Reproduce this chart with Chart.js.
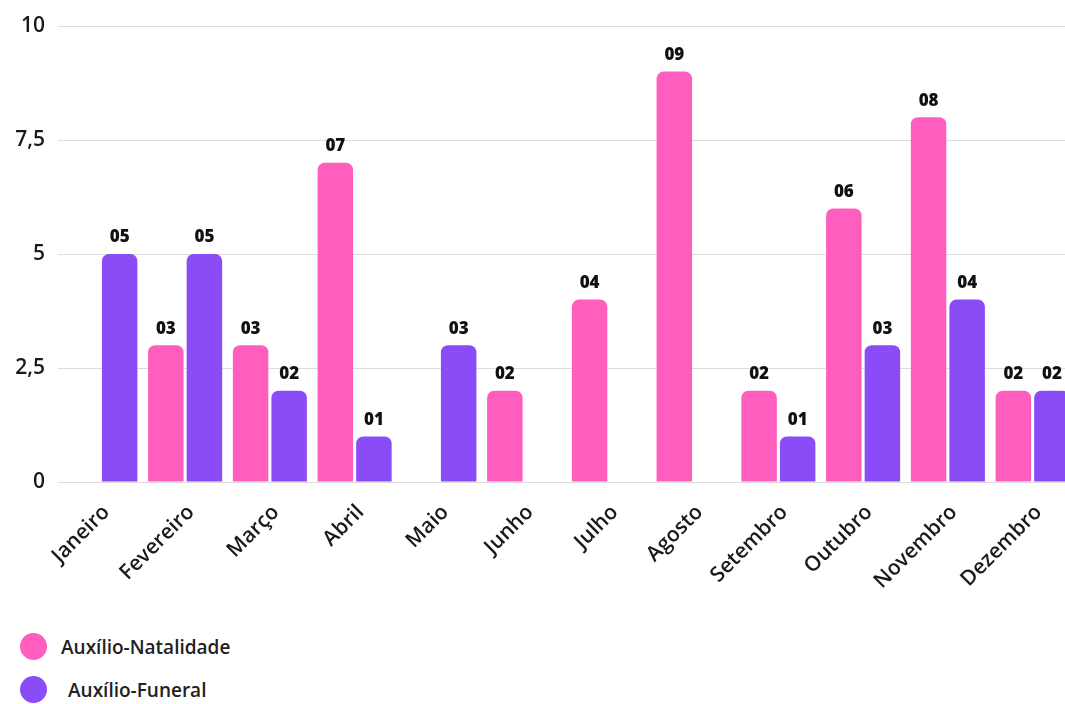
<!DOCTYPE html>
<html>
<head>
<meta charset="utf-8">
<script src="https://cdn.jsdelivr.net/npm/chart.js@4.4.1/dist/chart.umd.min.js"></script>
<style>
  body { margin: 0; background: #fff; overflow: hidden; }
  #wrap { position: relative; width: 1065px; height: 704px; overflow: hidden; }
  #box { position: absolute; left: 0; top: 0; width: 1075px; height: 600px; }
  #legend { position: absolute; left: 20px; top: 633px; font-family: 'Open Sans', sans-serif; font-size: 19px; font-weight: 600; color: #222; }
  .item { display: flex; align-items: center; height: 27px; margin-bottom: 16px; }
  .dot { width: 27px; height: 27px; border-radius: 50%; margin-right: 14px; }
</style>
</head>
<body>
<div id="wrap">
  <div id="box"><canvas id="chart"></canvas></div>
  <div id="legend"></div>
</div>
<script>
// Chart data
const months = ['Janeiro', 'Fevereiro', 'Março', 'Abril', 'Maio', 'Junho', 'Julho', 'Agosto', 'Setembro', 'Outubro', 'Novembro', 'Dezembro'];
const natalidade = [0, 3, 3, 7, 0, 2, 4, 9, 2, 6, 8, 2];
const funeral = [5, 5, 2, 1, 3, 0, 0, 0, 1, 3, 4, 2];
const seriesNames = ['Auxílio-Natalidade', 'Auxílio-Funeral'];
const yTicks = [0, 2.5, 5, 7.5, 10];

const pink = '#ff5ebf';
const purple = '#8a4cf7';

// draws "05", "03" ... above each bar
const valueLabels = {
  id: 'valueLabels',
  afterDatasetsDraw(chart) {
    const ctx = chart.ctx;
    ctx.save();
    ctx.font = '800 17px "Open Sans", sans-serif';
    ctx.fillStyle = '#111';
    ctx.textAlign = 'center';
    ctx.textBaseline = 'bottom';
    chart.data.datasets.forEach((ds, i) => {
      chart.getDatasetMeta(i).data.forEach((bar, j) => {
        const v = ds.data[j];
        if (!v) return;
        ctx.fillText(String(v).padStart(2, '0'), bar.x, bar.y - 8);
      });
    });
    ctx.restore();
  }
};

const chart = new Chart(document.getElementById('chart'), {
  type: 'bar',
  data: {
    labels: months,
    datasets: [
      { label: seriesNames[0], data: natalidade, backgroundColor: pink, borderRadius: 7, borderSkipped: 'bottom' },
      { label: seriesNames[1], data: funeral, backgroundColor: purple, borderRadius: 7, borderSkipped: 'bottom' }
    ]
  },
  options: {
    responsive: true,
    maintainAspectRatio: false,
    animation: false,
    categoryPercentage: 0.91,
    barPercentage: 0.92,
    layout: { padding: { top: 26, left: 0, right: 0, bottom: 0 } },
    plugins: {
      legend: { display: false },
      tooltip: { enabled: false }
    },
    scales: {
      x: {
        grid: { display: false },
        border: { display: false },
        ticks: {
          color: '#1a1a1a',
          font: { family: 'Open Sans', size: 21, weight: 600 },
          maxRotation: 45,
          minRotation: 45,
          padding: 10,
          labelOffset: 6
        },
        afterFit(scale) { scale.height = 118; }
      },
      y: {
        min: 0,
        max: 10,
        afterBuildTicks(scale) { scale.ticks = yTicks.map(v => ({ value: v })); },
        grid: { color: '#dcdcdc', lineWidth: 1, drawTicks: false },
        border: { display: false },
        ticks: {
          color: '#1a1a1a',
          font: { family: 'Open Sans', size: 21, weight: 600 },
          padding: 13,
          callback: v => String(v).replace('.', ',')
        },
        afterFit(scale) { scale.width = 58; }
      }
    }
  },
  plugins: [valueLabels]
});

// legend below the chart
const legend = document.getElementById('legend');
seriesNames.forEach((name, i) => {
  const item = document.createElement('div');
  item.className = 'item';
  item.innerHTML = `<span class="dot" style="background:${i === 0 ? pink : purple}"></span><span${i === 1 ? ' style="margin-left:7px"' : ''}>${name}</span>`;
  legend.appendChild(item);
});
</script>
</body>
</html>
